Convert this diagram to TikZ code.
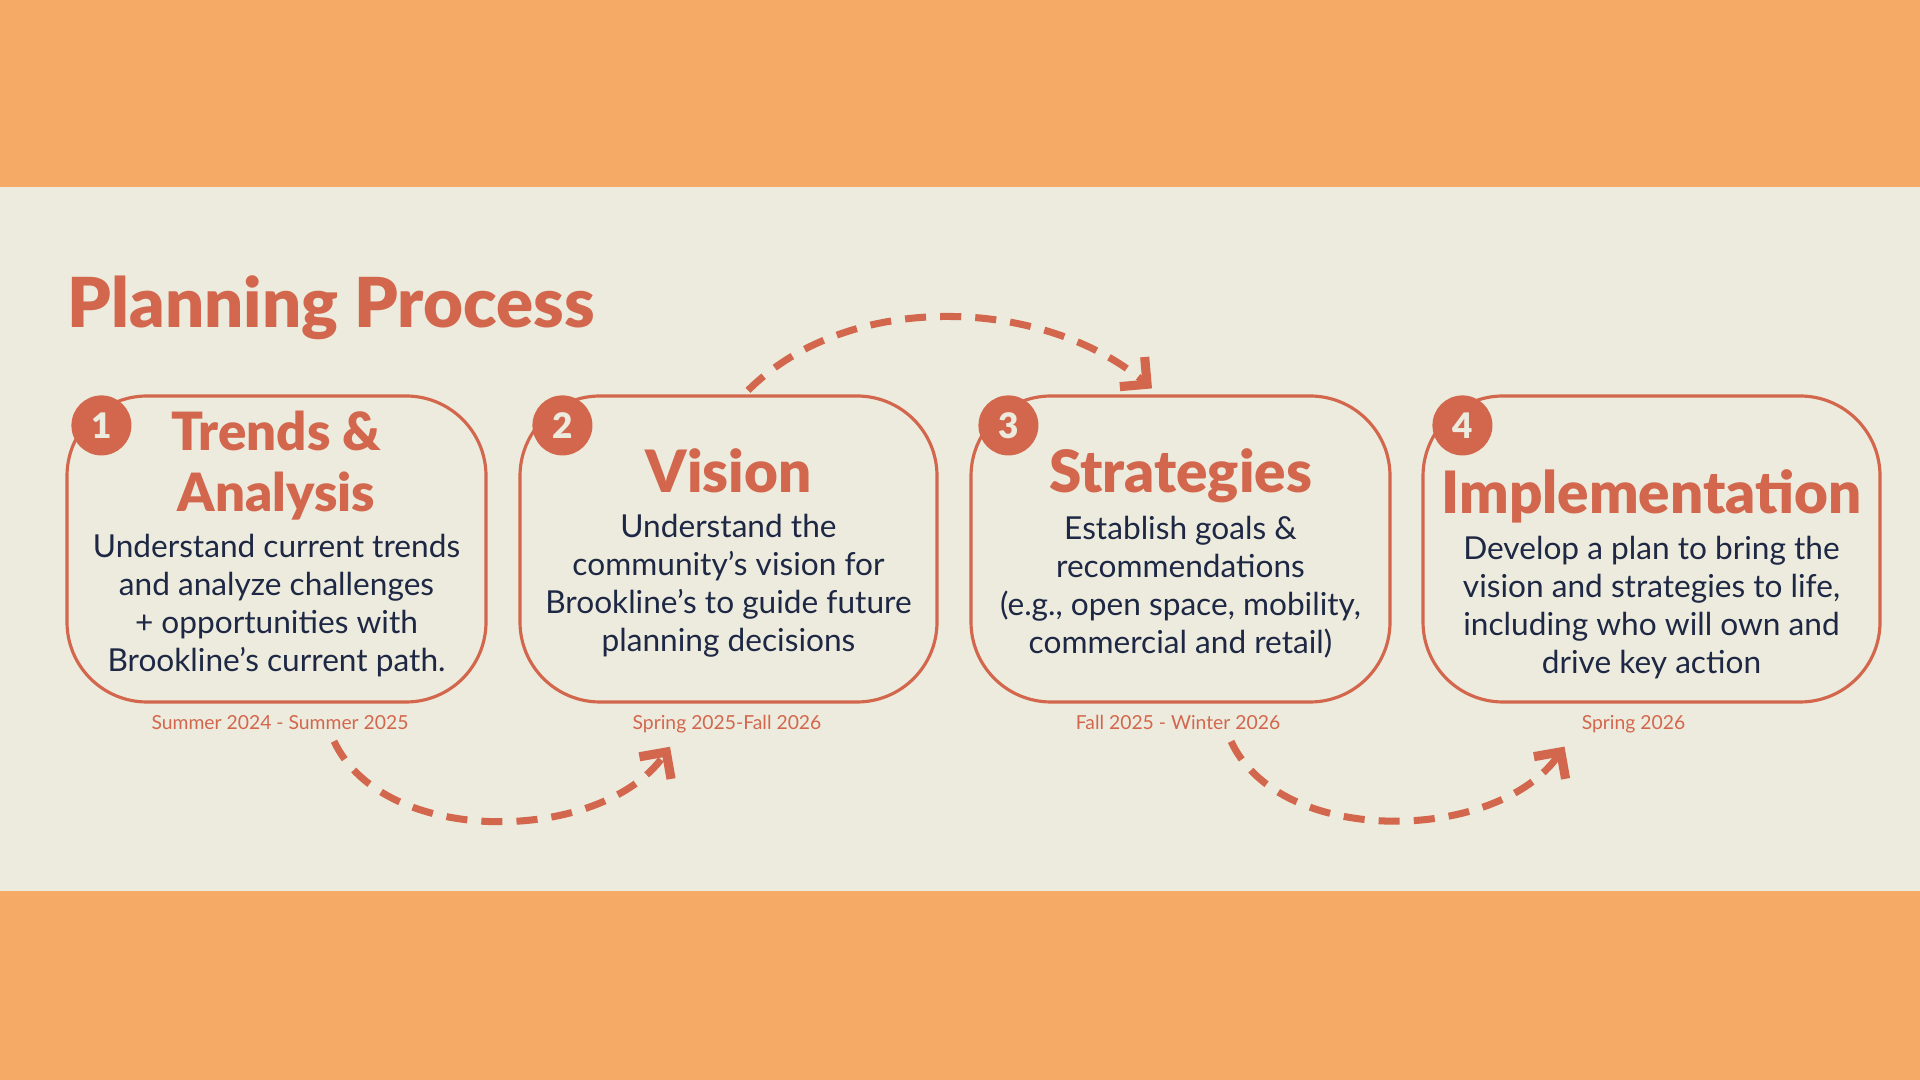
\documentclass[tikz,border=0pt]{standalone}
\usepackage{fontspec}
\setmainfont{Lato}
\newfontfamily\heavyfont{Lato Black}
\usepackage{xcolor}
\usepackage{tikz}
\usetikzlibrary{arrows.meta,positioning,calc}
\definecolor{bandorange}{RGB}{245,170,101}
\definecolor{paper}{RGB}{236,235,221}
\definecolor{terracotta}{RGB}{211,103,78}
\definecolor{inkblue}{RGB}{30,40,68}

\begin{document}
\begin{tikzpicture}[
  stepbox/.style={draw=terracotta, line width=0.9pt, rounded corners=0.8cm,
                  minimum height=3.06cm, inner sep=0pt},
  numdot/.style={circle, fill=terracotta, minimum size=0.6cm, inner sep=0pt,
                 text=paper, font=\heavyfont\fontsize{10}{10}\selectfont},
  headtxt/.style={text=terracotta, align=center, inner sep=0pt,
                  font=\heavyfont\fontsize{16.6}{19}\selectfont},
  bodytxt/.style={text=inkblue, align=center, inner sep=0pt,
                  font=\fontsize{9}{10.8}\selectfont},
  datetxt/.style={text=terracotta, inner sep=0pt, font=\fontsize{5.5}{6}\selectfont},
  flow/.style={terracotta, line width=2pt, dash pattern=on 6pt off 4pt,
               -{Straight Barb[length=5.5pt,width=11pt,line width=2.6pt]}}
]
\useasboundingbox (0,0) rectangle (19.2,10.8);
% background bands
\fill[bandorange] (0,0) rectangle (19.2,10.8);
\fill[paper] (0,1.89) rectangle (19.2,8.93);

\node[anchor=base west, inner sep=0pt, text=terracotta,
      font=\heavyfont\fontsize{19.6}{20}\selectfont] (heading) at (0.67,7.52) {Planning Process};

% the four steps
\node[stepbox, minimum width=4.19cm] (b1) at (2.765,5.31) {};
\node[stepbox, minimum width=4.17cm] (b2) at (7.285,5.31) {};
\node[stepbox, minimum width=4.19cm] (b3) at (11.805,5.31) {};
\node[stepbox, minimum width=4.57cm] (b4) at (16.515,5.31) {};

\node[numdot] (n1) at ($(b1.north west)+(0.36,-0.31)$) {1};
\node[numdot] (n2) at ($(b2.north west)+(0.44,-0.31)$) {2};
\node[numdot] (n3) at ($(b3.north west)+(0.39,-0.31)$) {3};
\node[numdot] (n4) at ($(b4.north west)+(0.41,-0.31)$) {4};

\node[headtxt, font=\heavyfont\fontsize{15}{17.4}\selectfont] (t1) at ($(b1.center)+(0,0.83)$) {Trends \&\\Analysis};
\node[bodytxt] (d1) at ($(b1.center)+(0,-0.565)$)
  {Understand current trends\\and analyze challenges\\+ opportunities with\\Brookline’s current path.};

\node[headtxt] (t2) at ($(b2.center)+(0,0.78)$) {Vision};
\node[bodytxt] (d2) at ($(b2.center)+(0,-0.37)$)
  {Understand the\\community’s vision for\\Brookline’s to guide future\\planning decisions};

\node[headtxt] (t3) at ($(b3.center)+(0,0.73)$) {Strategies};
\node[bodytxt] (d3) at ($(b3.center)+(0,-0.38)$)
  {Establish goals \&\\recommendations\\(e.g., open space, mobility,\\commercial and retail)};

\node[headtxt] (t4) at ($(b4.center)+(0,0.53)$) {Implementation};
\node[bodytxt] (d4) at ($(b4.center)+(0,-0.59)$)
  {Develop a plan to bring the\\vision and strategies to life,\\including who will own and\\drive key action};

% timing
\node[datetxt, below=0.11cm of b1, xshift=0.035cm] (w1) {Summer 2024 - Summer 2025};
\node[datetxt, below=0.11cm of b2, xshift=-0.015cm] (w2) {Spring 2025-Fall 2026};
\node[datetxt, below=0.11cm of b3, xshift=-0.025cm] (w3) {Fall 2025 - Winter 2026};
\node[datetxt, below=0.11cm of b4, xshift=-0.18cm] (w4) {Spring 2026};

% dashed connectors
\coordinate (a1) at ($(w1.south)+(0.54,-0.11)$);
\coordinate (a2) at ($(w2.south)+(-0.57,-0.13)$);
\coordinate (c1) at ($(w3.south)+(0.53,-0.11)$);
\coordinate (c2) at ($(w4.south)+(-0.69,-0.13)$);
\coordinate (up1) at ($(b2.north)+(0.195,0.04)$);
\coordinate (up2) at ($(b3.north)+(-0.285,0.06)$);

\draw[flow] (a1) to[out=-65, in=-125, looseness=0.9] (a2);
\draw[flow] (up1) to[out=45, in=140, looseness=0.9] (up2);
\draw[flow] (c1) to[out=-65, in=-125, looseness=0.9] (c2);
\end{tikzpicture}
\end{document}
